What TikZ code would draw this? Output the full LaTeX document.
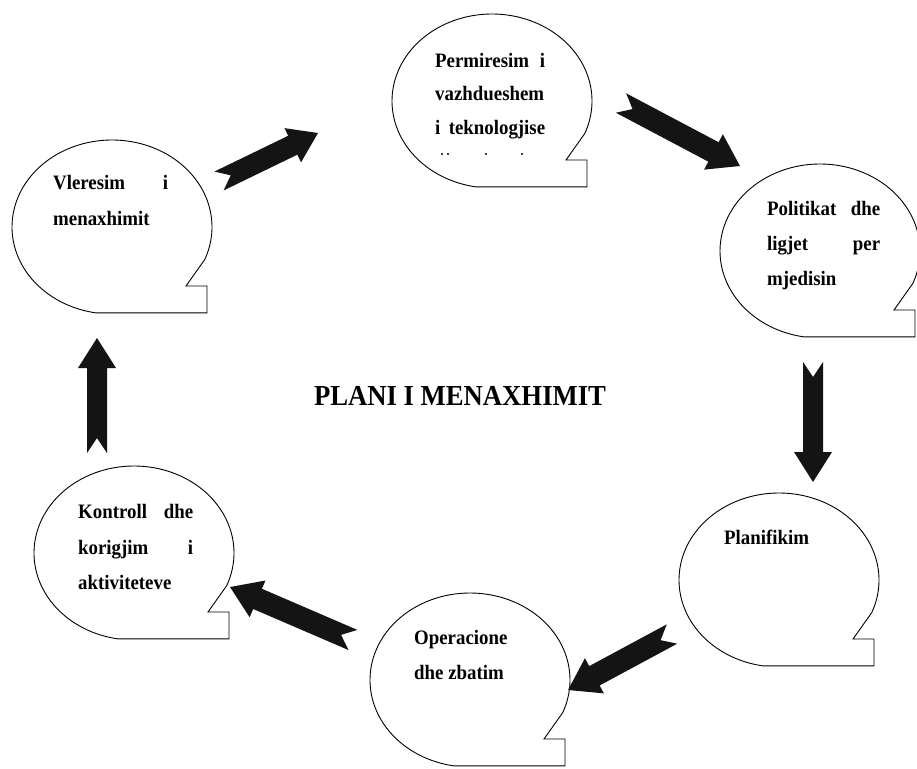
\documentclass[tikz,border=0pt]{standalone}
\usepackage{fontspec}
\setmainfont{Liberation Serif}[FakeStretch=0.92]
\usetikzlibrary{calc}

\tikzset{
  bubbleline/.style={draw=black, line width=0.9pt, fill=white, line join=miter},
  arrowfill/.style={fill=black!92},
  txt/.style={inner sep=0pt, font=\fontsize{20.5}{24}\selectfont\bfseries, anchor=base west},
}

% #1 tail, #2 tip, #3 shaft half width, #4 head half width, #5 head length, #6 notch depth
\newcommand{\blockarrow}[6]{%
  \path let \p1=($(#2)-(#1)$) in
    \pgfextra{\pgfmathsetmacro\tmpa{atan2(\y1,\x1)}\global\let\barang\tmpa
              \pgfmathsetmacro\tmpb{veclen(\x1,\y1)}\global\let\barlen\tmpb};
  \fill[arrowfill, shift={(#1)}, rotate=\barang]
    (0pt,#3pt) -- ({\barlen pt-#5pt},#3pt) -- ({\barlen pt-#5pt},#4pt) -- ({\barlen pt},0pt)
    -- ({\barlen pt-#5pt},-#4pt) -- ({\barlen pt-#5pt},-#3pt) -- (0pt,-#3pt) -- (#6pt,0pt) -- cycle;
}

% bubble at named center coordinate
\newcommand{\speechbubble}[1]{%
  \begin{scope}[shift={(#1)}]
    \draw[bubbleline] plot[domain=0:283, samples=140, smooth] ({100*cos(22-\x)},{87*sin(22-\x)})
      -- (95,85.9) -- (95,59) -- (74,59) -- cycle;
  \end{scope}
}

\begin{document}
\begin{tikzpicture}[x=1pt, y=-1pt]
\useasboundingbox[fill=white] (0,0) rectangle (917,768);

% bubble centres
\coordinate (cA) at (492,101);
\coordinate (cB) at (112,227);
\coordinate (cC) at (820,251);
\coordinate (cD) at (134,553);
\coordinate (cE) at (470,680);
\coordinate (cF) at (779,580);

\speechbubble{cA}
\speechbubble{cB}
\speechbubble{cC}
\speechbubble{cD}
\speechbubble{cE}
\speechbubble{cF}

% texts
\node[txt] (a1) at (435,67) {\hbox to 110pt{Permiresim\hfill i}};
\node[txt] (a2) at (435,100) {\hbox to 110pt{vazhdueshem}};
\node[txt] (a3) at (435,134) {\hbox to 110pt{i\hfill teknologjise}};
\fill (442,154) circle (1.2pt) (448,154) circle (1.2pt) (486,154) circle (1.2pt) (522,154) circle (1.2pt);

\node[txt] (b1) at (53,189) {\hbox to 115pt{Vleresim\hfill i}};
\node[txt] (b2) at (53,225) {menaxhimit};

\node[txt] (c1) at (767,215) {\hbox to 113pt{Politikat\hfill dhe}};
\node[txt] (c2) at (767,250) {\hbox to 113pt{ligjet\hfill per}};
\node[txt] (c3) at (767,285) {mjedisin};

\node[txt] (d1) at (78,518) {\hbox to 115pt{Kontroll\hfill dhe}};
\node[txt] (d2) at (78,554) {\hbox to 115pt{korigjim\hfill i}};
\node[txt] (d3) at (78,589) {aktiviteteve};

\node[txt] (e1) at (414,644) {Operacione};
\node[txt] (e2) at (414,679) {dhe zbatim};

\node[txt] (f1) at (724,544) {Planifikim};

\node[inner sep=0pt, font=\fontsize{29}{34}\selectfont\bfseries] (title) at (460,396) {PLANI I MENAXHIMIT};

% arrow end points
\coordinate (t1) at (219,181); \coordinate (h1) at (318,133);
\coordinate (t2) at (621,103); \coordinate (h2) at (740,166);
\coordinate (t3) at (813,362); \coordinate (h3) at (813,482);
\coordinate (t4) at (672,634); \coordinate (h4) at (568,690);
\coordinate (t5) at (353,640); \coordinate (h5) at (230,587);
\coordinate (t6) at (97,453);  \coordinate (h6) at (97,338);

\blockarrow{t1}{h1}{10.5}{19}{28}{13}
\blockarrow{t2}{h2}{11}{20}{30}{13}
\blockarrow{t3}{h3}{10}{19}{30}{15}
\blockarrow{t4}{h4}{11}{20}{30}{13}
\blockarrow{t5}{h5}{11}{20}{30}{13}
\blockarrow{t6}{h6}{10}{19}{30}{15}

\end{tikzpicture}
\end{document}
